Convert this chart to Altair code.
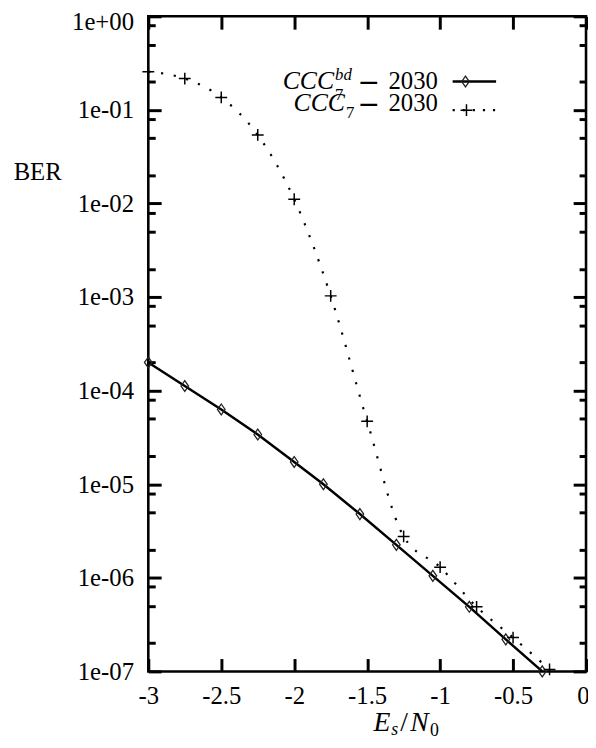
import altair as alt
import pandas as pd

# ---- data ----
bd_x = [-3.0, -2.75, -2.5, -2.25, -2.0, -1.8, -1.55, -1.3, -1.05, -0.8, -0.55, -0.3]
bd_ber = [2.0e-4, 1.12e-4, 6.3e-5, 3.4e-5, 1.73e-5, 1.0e-5, 4.8e-6, 2.25e-6, 1.05e-6, 4.9e-7, 2.2e-7, 1.0e-7]

c7_x = [-3.0, -2.75, -2.5, -2.25, -2.0, -1.75, -1.5, -1.25, -1.0, -0.75, -0.5, -0.25]
c7_ber = [0.256, 0.216, 0.136, 0.054, 0.0111, 1.03e-3, 4.7e-5, 2.77e-6, 1.3e-6, 4.9e-7, 2.3e-7, 1.05e-7]

x_ticks = [-3, -2.5, -2, -1.5, -1, -0.5, 0]
y_major = [1, 1e-1, 1e-2, 1e-3, 1e-4, 1e-5, 1e-6, 1e-7]
y_minor = [m * 10.0 ** (-k) for k in range(1, 8) for m in (8, 5, 2)]

legend_labels = ["2030", "2030"]
y_title = "BER"

W, H = 443, 663
SERIF = "Liberation Serif"
TW = 3

xs = alt.Scale(domain=[-3, 0], nice=False, zero=False)
ys = alt.Scale(type="log", domain=[1e-7, 1], nice=False)

MINOR = "abs(log(datum.value)/LN10 - round(log(datum.value)/LN10)) > 0.001"
INWARD = {"expr": "-13"}
DASH = {"condition": {"test": MINOR, "value": [7, 60]}, "value": [20, 0]}

x_axis = alt.Axis(values=x_ticks, labelExpr="'' + datum.value", ticks=True, tickSize=INWARD,
                  tickWidth=TW, tickColor="#000000", tickOpacity=1, tickCap="butt",
                  domain=False, grid=False, labelFont=SERIF, labelFontSize=25,
                  labelPadding=25, labelColor="black", labelFlush=False,
                  labelOverlap=False, title=None,
                  labelAlign={"condition": {"test": "datum.value >= 0", "value": "right"}, "value": "center"},
                  labelOffset={"condition": {"test": "datum.value >= 0", "value": 3}, "value": 0})
y_axis = alt.Axis(values=y_major + y_minor,
                  labelExpr=MINOR + " ? '' : (datum.value >= 1 ? '1e+00' : '1e-0' + round(-log(datum.value)/LN10))",
                  ticks=True, tickSize=INWARD, tickWidth=TW, tickColor="#000000", tickOpacity=1,
                  tickCap="butt", tickDash=DASH,
                  domain=False, grid=False, labelFont=SERIF,
                  labelFontSize=25, labelPadding=28, labelColor="black",
                  labelFlush=False, labelOverlap=False, labelBaseline="middle", title=None,
                  labelOffset={"condition": {"test": "datum.value >= 1", "value": 5}, "value": 0})
x_axis_top = alt.Axis(orient="top", values=x_ticks, labels=False, ticks=True, tickSize=INWARD,
                      tickWidth=TW, tickColor="#000000", tickOpacity=1, tickCap="butt",
                      domain=False, grid=False, title=None)
y_axis_right = alt.Axis(orient="right", values=y_major + y_minor, labels=False, ticks=True,
                        tickSize=INWARD, tickWidth=TW, tickColor="#000000", tickOpacity=1,
                        tickCap="butt", tickDash=DASH,
                        domain=False, grid=False, title=None)

def X(f):
    return alt.X(f, type="quantitative", scale=xs, axis=x_axis, title=None)

def Y(f):
    return alt.Y(f, type="quantitative", scale=ys, axis=y_axis, title=None)

df_bd = pd.DataFrame({"x": bd_x, "ber": bd_ber})
df_c7 = pd.DataFrame({"x": c7_x, "ber": c7_ber})

DIAMOND = "M-0.7,0L0,-1L0.7,0L0,1Z"
PLUS = "M-1,0L1,0M0,-1L0,1"

line_bd = alt.Chart(df_bd).mark_line(color="black", strokeWidth=2.5).encode(x=X("x"), y=Y("ber"))
pts_bd = alt.Chart(df_bd).mark_point(shape=DIAMOND, filled=False, size=121, color="#222",
                                     strokeWidth=1.3, opacity=1).encode(x=X("x"), y=Y("ber"))
line_c7 = alt.Chart(df_c7).mark_line(color="black", strokeWidth=2.2, strokeDash=[2.2, 10.8],
                                     strokeCap="butt", interpolate="monotone").encode(x=X("x"), y=Y("ber"))
pts_c7 = alt.Chart(df_c7).mark_point(shape=PLUS, filled=False, size=144, color="black",
                                     strokeWidth=1.5, opacity=1).encode(x=X("x"), y=Y("ber"))

one = pd.DataFrame({"a": [0]})

def txt(s, x, y, size=25, style="normal", align="left", font=SERIF, baseline="alphabetic"):
    return alt.Chart(one).mark_text(text=s, font=font, fontSize=size, fontStyle=style,
                                    align=align, baseline=baseline, color="black").encode(
        x=alt.value(x), y=alt.value(y))

legend = [
    txt("CCC", 188, 74, size=26, style="italic", align="right"),
    txt("bd", 189, 64, size=17, style="italic"),
    txt("7", 189, 85, size=17),
    txt("\u2212", 223, 75.5, size=27, align="center", font="DejaVu Sans"),
    txt(legend_labels[0], 293, 74, align="right"),
    txt("CCC", 199, 96, size=26, style="italic", align="right"),
    txt("7", 200, 103, size=17),
    txt("\u2212", 223, 97.5, size=27, align="center", font="DejaVu Sans"),
    txt(legend_labels[1], 293, 96, align="right"),
    alt.Chart(one).mark_rule(color="black", strokeWidth=2.5).encode(
        x=alt.value(308), x2=alt.value(352), y=alt.value(66)),
    alt.Chart(one).mark_point(shape=DIAMOND, filled=False, size=121, color="#222",
                              strokeWidth=1.3, opacity=1).encode(x=alt.value(321), y=alt.value(66)),
    alt.Chart(one).mark_rule(color="black", strokeWidth=2.2, strokeDash=[2.2, 8],
                             strokeCap="butt").encode(x=alt.value(308), x2=alt.value(352), y=alt.value(95)),
    alt.Chart(one).mark_point(shape=PLUS, filled=False, size=144, color="black",
                              strokeWidth=1.5, opacity=1).encode(x=alt.value(322), y=alt.value(95)),
]

titles = [
    txt(y_title, -112, 166, size=25, align="center"),
    txt("E", 228, 723, size=28, style="italic"),
    txt("s", 246, 727, size=18, style="italic"),
    txt("/", 255, 723, size=28),
    txt("N", 265, 723, size=28, style="italic"),
    txt("0", 285, 728, size=18),
]

inner = alt.layer(line_c7, line_bd, pts_bd, pts_c7, *legend, *titles)

# invisible layer that only carries the top and right tick axes
frame = alt.Chart(df_bd).mark_point(opacity=0).encode(
    x=alt.X("x", type="quantitative", scale=xs, axis=x_axis_top, title=None),
    y=alt.Y("ber", type="quantitative", scale=ys, axis=y_axis_right, title=None),
)

chart = alt.layer(inner, frame).resolve_axis(x="independent", y="independent").properties(
    width=W, height=H,
    autosize=alt.AutoSizeParams(type="none"),
    padding={"left": 142, "top": 4, "right": 2, "bottom": 65},
).configure_view(stroke="black", strokeWidth=2.6)

chart.save("out.html", embed_options={"renderer": "svg", "actions": False})
